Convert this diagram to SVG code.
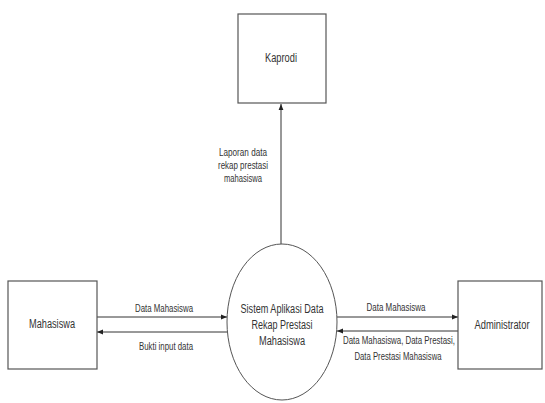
<svg xmlns="http://www.w3.org/2000/svg" width="545" height="403" viewBox="0 0 545 403">
<defs>
<marker id="ah" viewBox="0 0 10 10" refX="10" refY="5" markerWidth="6" markerHeight="6" markerUnits="userSpaceOnUse" orient="auto">
<path d="M0,1 L10,5 L0,9 Z" fill="#222"/>
</marker>
<style>
.box{fill:#fff;stroke:#555;stroke-width:1.2}
.el{fill:#fff;stroke:#555;stroke-width:1}
.ln{fill:none;stroke:#333;stroke-width:1;marker-end:url(#ah)}
.t{font-family:"Liberation Sans",Arial,sans-serif;fill:#333;text-anchor:middle}
.big{font-size:12.5px}
.sm{font-size:10.5px}
</style>
</defs>
<rect width="545" height="403" fill="#fff"/>
<g id="connectors">
<line class="ln" x1="281" y1="244" x2="281" y2="104"/>
<line class="ln" x1="97" y1="317" x2="227" y2="317"/>
<line class="ln" x1="227" y1="332" x2="97" y2="332"/>
<line class="ln" x1="337" y1="317" x2="458" y2="317"/>
<line class="ln" x1="458" y1="331" x2="337" y2="331"/>
<text class="t sm" x="243" y="156" textLength="48" lengthAdjust="spacingAndGlyphs">Laporan data</text>
<text class="t sm" x="243" y="169" textLength="50" lengthAdjust="spacingAndGlyphs">rekap prestasi</text>
<text class="t sm" x="243" y="182" textLength="38" lengthAdjust="spacingAndGlyphs">mahasiswa</text>
<text class="t sm" x="164" y="312" textLength="58" lengthAdjust="spacingAndGlyphs">Data Mahasiswa</text>
<text class="t sm" x="166" y="350" textLength="54" lengthAdjust="spacingAndGlyphs">Bukti input data</text>
<text class="t sm" x="396" y="311" textLength="59" lengthAdjust="spacingAndGlyphs">Data Mahasiswa</text>
<text class="t sm" x="399" y="344" textLength="112" lengthAdjust="spacingAndGlyphs">Data Mahasiswa, Data Prestasi,</text>
<text class="t sm" x="398" y="360" textLength="87" lengthAdjust="spacingAndGlyphs">Data Prestasi Mahasiswa</text>
</g>
<g id="kaprodi">
<rect class="box" x="238" y="14" width="88" height="89"/>
<text class="t big" x="281" y="62" textLength="32" lengthAdjust="spacingAndGlyphs">Kaprodi</text>
</g>
<g id="mahasiswa">
<rect class="box" x="8" y="281" width="89" height="88"/>
<text class="t big" x="52" y="328" textLength="46" lengthAdjust="spacingAndGlyphs">Mahasiswa</text>
</g>
<g id="sistem">
<ellipse class="el" cx="282" cy="322" rx="55" ry="78"/>
<text class="t big" x="282" y="313" textLength="83" lengthAdjust="spacingAndGlyphs">Sistem Aplikasi Data</text>
<text class="t big" x="282" y="329" textLength="61" lengthAdjust="spacingAndGlyphs">Rekap Prestasi</text>
<text class="t big" x="282" y="345" textLength="46" lengthAdjust="spacingAndGlyphs">Mahasiswa</text>
</g>
<g id="administrator">
<rect class="box" x="458" y="281" width="84" height="88"/>
<text class="t big" x="502" y="329" textLength="55" lengthAdjust="spacingAndGlyphs">Administrator</text>
</g>
</svg>
